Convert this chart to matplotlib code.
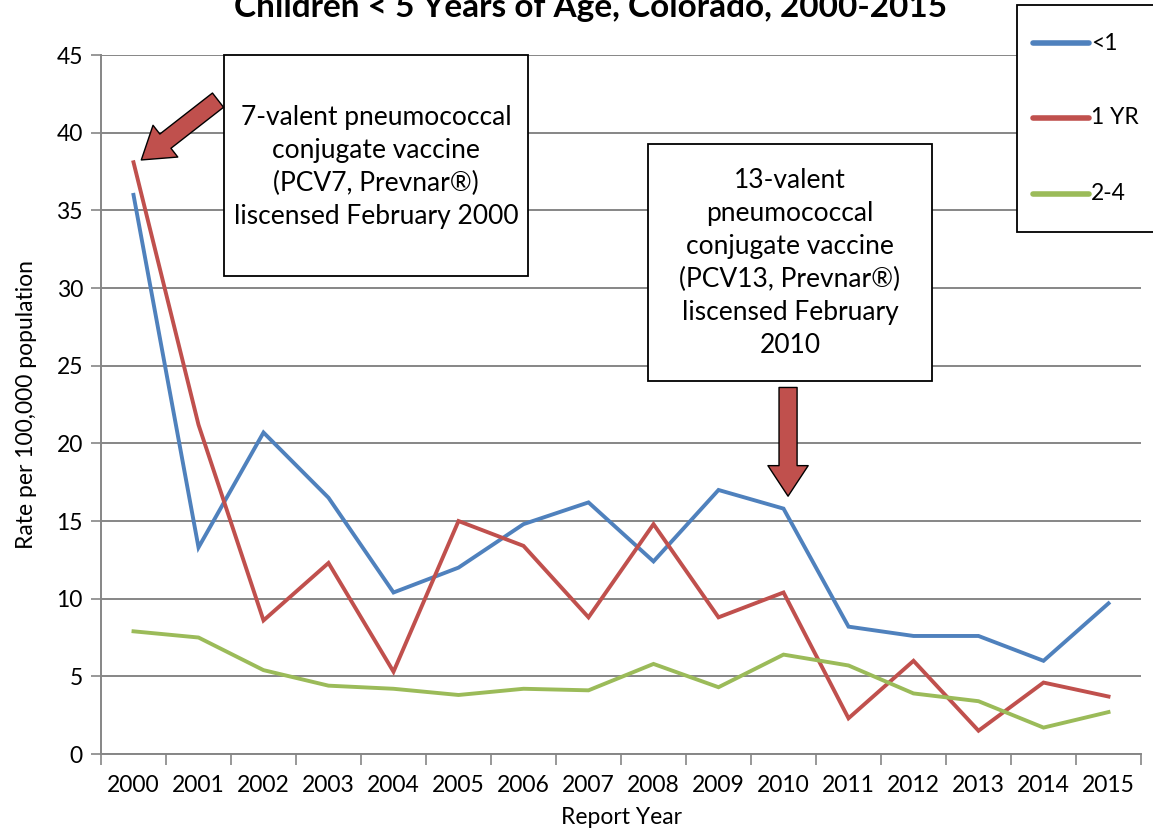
import numpy as np
import matplotlib.pyplot as plt
from matplotlib.patches import Rectangle
from matplotlib.lines import Line2D

plt.rcParams['font.family'] = ['Lato', 'DejaVu Sans']

#%% DATA
years = ['2000', '2001', '2002', '2003', '2004', '2005', '2006', '2007',
         '2008', '2009', '2010', '2011', '2012', '2013', '2014', '2015']
under_1 = [36.0, 13.3, 20.7, 16.5, 10.4, 12.0, 14.8, 16.2,
           12.4, 17.0, 15.8, 8.2, 7.6, 7.6, 6.0, 9.7]
one_yr = [38.1, 21.2, 8.6, 12.3, 5.3, 15.0, 13.4, 8.8,
          14.8, 8.8, 10.4, 2.3, 6.0, 1.5, 4.6, 3.7]
two_four = [7.9, 7.5, 5.4, 4.4, 4.2, 3.8, 4.2, 4.1,
            5.8, 4.3, 6.4, 5.7, 3.9, 3.4, 1.7, 2.7]
series_names = ['<1', '1 YR', '2-4']
series_colors = ['#4F81BD', '#C0504D', '#9BBB59']

title = 'Children < 5 Years of Age, Colorado, 2000-2015'
note_pcv7 = '7-valent pneumococcal\nconjugate vaccine\n(PCV7, Prevnar\u00ae)\nliscensed February 2000'
note_pcv13 = '13-valent\npneumococcal\nconjugate vaccine\n(PCV13, Prevnar\u00ae)\nliscensed February\n2010'

#%% FIGURE
fig = plt.figure(figsize=(11.53, 8.35), dpi=100)
ax = fig.add_axes([0.0876, 0.097, 0.902, 0.837])

x = np.arange(len(years))
handles = []
for vals, name, col in zip([under_1, one_yr, two_four], series_names, series_colors):
    h, = ax.plot(x, vals, color=col, lw=2.8, solid_joinstyle='miter', label=name, zorder=3)
    handles.append(h)

ax.set_xlim(-0.5, len(years) - 0.5)
ax.set_ylim(0, 45)
ax.set_yticks(np.arange(0, 46, 5))
ax.set_xticks(x)
ax.set_xticklabels(years)
ax.set_xticks(np.arange(-0.5, len(years), 1), minor=True)
ax.tick_params(axis='x', which='major', length=0, pad=15, labelsize=16.5)
ax.tick_params(axis='x', which='minor', length=8, width=1.2, color='#868686', direction='out')
ax.tick_params(axis='y', length=7, width=1.2, color='#868686', labelsize=16.5, pad=6)
ax.yaxis.grid(True, color='#868686', lw=1.4)
ax.set_axisbelow(True)
for s in ['top', 'right']:
    ax.spines[s].set_visible(False)
for s in ['left', 'bottom']:
    ax.spines[s].set_color('#868686')
    ax.spines[s].set_linewidth(1.4)

ax.set_xlabel('Report Year', fontsize=16.5, labelpad=8)
ax.set_ylabel('Rate per 100,000 population', fontsize=16.5, labelpad=14)

fig.text(0.512, 1 - 17 / 835, title, ha='center', va='baseline',
         fontsize=24, fontweight='bold')

#%% ANNOTATIONS
ax.add_patch(Rectangle((0.118, 0.684), 0.293, 0.316, transform=ax.transAxes,
                       fc='white', ec='black', lw=1.3, zorder=4, clip_on=False))
ax.text(0.2645, 0.84, note_pcv7, transform=ax.transAxes, ha='center', va='center',
        fontsize=19, linespacing=1.4, zorder=5)

ax.add_patch(Rectangle((0.526, 0.534), 0.273, 0.339, transform=ax.transAxes,
                       fc='white', ec='black', lw=1.3, zorder=4, clip_on=False))
ax.text(0.6625, 0.703, note_pcv13, transform=ax.transAxes, ha='center', va='center',
        fontsize=19, linespacing=1.4, zorder=5)

arrow_style = dict(arrowstyle='simple,head_length=2.2,head_width=2.9,tail_width=1.3',
                   fc='#C0504D', ec='black', lw=1.0, mutation_scale=10,
                   shrinkA=0, shrinkB=0)
ax.annotate('', xy=(0.12, 38.25), xytext=(1.3, 42.1), arrowprops=arrow_style, zorder=6)
ax.annotate('', xy=(10.07, 16.6), xytext=(10.07, 23.6), arrowprops=arrow_style, zorder=6)

#%% LEGEND
fig.patches.append(Rectangle((1017 / 1153, 1 - 232 / 835), 0.2, 227 / 835,
                             transform=fig.transFigure, fc='white', ec='black',
                             lw=1.3, figure=fig))
leg_y = [43, 118, 194]
for h, yy in zip(handles, leg_y):
    yf = 1 - yy / 835
    fig.lines.append(Line2D([1033 / 1153, 1089 / 1153], [yf, yf], transform=fig.transFigure,
                            color=h.get_color(), lw=4, solid_capstyle='round', figure=fig))
    fig.text(1091 / 1153, yf, h.get_label(), ha='left', va='center', fontsize=16.5)

fig.savefig('out.png', dpi=100)
